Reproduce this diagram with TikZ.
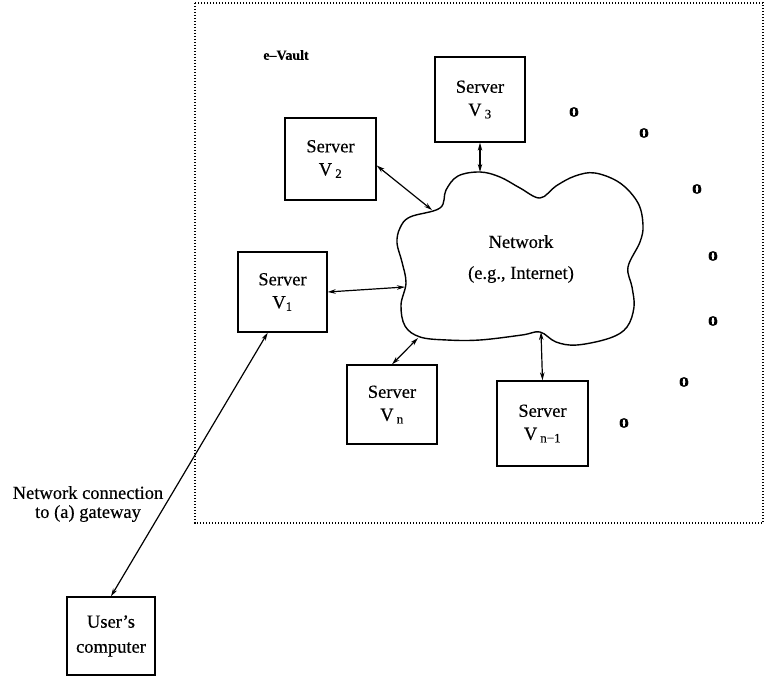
\documentclass[tikz,border=0pt]{standalone}
\usepackage{fontspec}
\setmainfont{Liberation Serif}[FakeBold=0.4]
\usetikzlibrary{arrows.meta}
\begin{document}
\begin{tikzpicture}[x=1pt,y=-1pt,
  box/.style={draw, line width=1.3pt, inner sep=0pt, align=center,
    font=\fontsize{18.5}{23}\selectfont},
  link/.style={line width=1.2pt, {Stealth[length=8pt,width=4.5pt]}-{Stealth[length=8pt,width=4.5pt]}},
  lbl/.style={font=\fontsize{18.5}{19}\selectfont, align=center},
  dot/.style={font=\bfseries\fontsize{20}{20}\selectfont, inner sep=0pt}
]
\useasboundingbox (0,0) rectangle (766,677);
% e-Vault frame
\draw[line width=1.2pt, dash pattern=on 1.2pt off 1.8pt] (195,3) rectangle (763,523);
\node[font=\bfseries\fontsize{14}{16}\selectfont] (ev) at (286,55) {e–Vault};

% cloud
\draw[line width=1.4pt] plot[smooth cycle, tension=0.6] coordinates {
 (480,172) (500,177) (520,188) (540,198) (556,186) (575,176) (595,173) (620,183)
 (638,203) (643,225) (640,242) (628,267) (632,287) (634,307) (627,327) (610,338)
 (577,345) (556,342) (540,332) (522,335) (480,340) (447,340) (420,337) (405,326)
 (401,305) (406,283) (402,262) (397,243) (400,228) (410,217) (440,208) (446,190) (458,176)};
\node[lbl] (net) at (521,259) {Network\\[12pt](e.g., Internet)};
\coordinate (c3) at (480,172);
\coordinate (c2) at (432,210);
\coordinate (c1) at (405,287);
\coordinate (cn) at (418,338);
\coordinate (cn1) at (541,332);

% servers
\node[box, minimum width=90pt, minimum height=85pt] (v3) at (480,99.5) {Server\\V\,\textsubscript{3}};
\node[box, minimum width=91pt, minimum height=82pt] (v2) at (330.5,159) {Server\\V\,\textsubscript{2}};
\node[box, minimum width=89pt, minimum height=80pt] (v1) at (282.5,292) {Server\\V\textsubscript{1}};
\node[box, minimum width=90pt, minimum height=79pt] (vn) at (392,404.5) {Server\\V\,\textsubscript{n}};
\node[box, minimum width=91pt, minimum height=85pt] (vn1) at (542.5,423.5) {Server\\V\,\textsubscript{n−1}};
\node[box, minimum width=88pt, minimum height=78pt, font=\fontsize{18.5}{25}\selectfont] (user) at (111,636) {User's\\computer};

% connectors
\draw[link] (v3.south) -- (c3);
\draw[link] (v2.-8) -- (c2);
\draw[link] (v1.east) -- (c1);
\draw[link] (vn.north) -- (cn);
\draw[link] (vn1.north) -- (cn1);
\draw[link] (v1.-110) -- (user.north);

\node[lbl] (gw) at (88,504) {Network connection\\to (a) gateway};

% dots
\node[dot] (d1) at (574,112) {o};
\node[dot] (d2) at (644,133) {o};
\node[dot] (d3) at (697,189) {o};
\node[dot] (d4) at (713,256) {o};
\node[dot] (d5) at (713,321) {o};
\node[dot] (d6) at (684,382) {o};
\node[dot] (d7) at (624,423) {o};
\end{tikzpicture}
\end{document}
